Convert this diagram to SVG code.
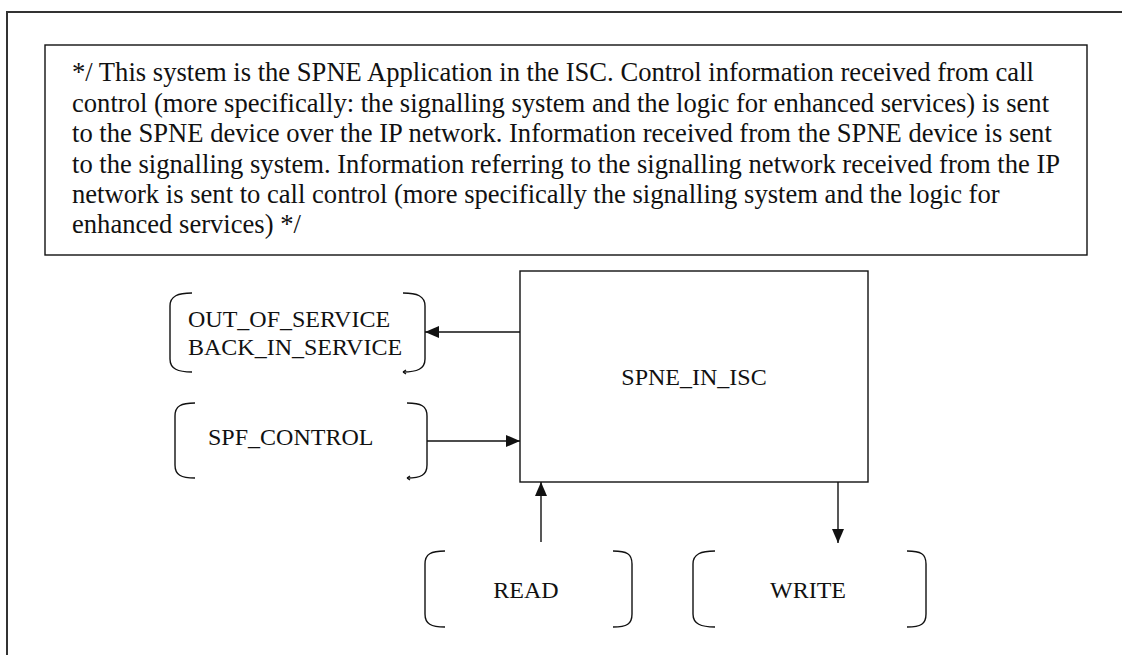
<svg xmlns="http://www.w3.org/2000/svg" width="1122" height="655" viewBox="0 0 1122 655">
  <style>
    .txt { font-family: "Liberation Serif", "Times New Roman", serif; font-size: 24px; fill: #111; }
    .para { font-size: 26.6px; }
    .frame { fill: none; stroke: #333; stroke-width: 2; }
    .box { fill: #fff; stroke: #111; stroke-width: 1.4; }
    .brk { fill: none; stroke: #111; stroke-width: 1.4; }
    .conn { fill: none; stroke: #111; stroke-width: 1.4; }
  </style>
  <defs>
    <marker id="arrow" viewBox="0 0 14 12" refX="14" refY="6" markerWidth="14" markerHeight="12" markerUnits="userSpaceOnUse" orient="auto">
      <path d="M0,0 L14,6 L0,12 Z" fill="#111"/>
    </marker>
  </defs>
  <rect width="1122" height="655" fill="#fff"/>

  <!-- outer page frame -->
  <path class="frame" d="M7,656 V12 H1124"/>

  <!-- description note -->
  <g id="note">
    <rect class="box" x="45" y="45" width="1042" height="210"/>
    <text class="txt para" x="72" y="81">*/ This system is the SPNE Application in the ISC. Control information received from call</text>
    <text class="txt para" x="72" y="111.5">control (more specifically: the signalling system and the logic for enhanced services) is sent</text>
    <text class="txt para" x="72" y="142">to the SPNE device over the IP network. Information received from the SPNE device is sent</text>
    <text class="txt para" x="72" y="172.5">to the signalling system. Information referring to the signalling network received from the IP</text>
    <text class="txt para" x="72" y="203">network is sent to call control (more specifically the signalling system and the logic for</text>
    <text class="txt para" x="72" y="233">enhanced services) */</text>
  </g>

  <!-- central system block -->
  <g id="spne_in_isc">
    <rect class="box" x="520" y="271" width="348" height="211"/>
    <text class="txt" x="694" y="385" text-anchor="middle">SPNE_IN_ISC</text>
  </g>

  <!-- signal lists -->
  <g id="out_of_service">
    <path class="brk" d="M192,293 C178,293 170,296 170,306 V359 C170,369 178,372 192,372"/>
    <path class="brk" d="M403,293 C417,293 425,296 425,306 V359 C425,369 417,372 403,372"/>
    <path class="brk" d="M403,372 l3,-2 M403,372 l3,2"/>
    <text class="txt" x="188" y="327">OUT_OF_SERVICE</text>
    <text class="txt" x="188" y="355">BACK_IN_SERVICE</text>
  </g>

  <g id="spf_control">
    <path class="brk" d="M195,403 C181,403 175,406 175,416 V465 C175,475 181,478 195,478"/>
    <path class="brk" d="M407,403 C421,403 427,406 427,416 V465 C427,475 421,478 407,478"/>
    <path class="brk" d="M407,478 l3,-2 M407,478 l3,2"/>
    <text class="txt" x="208" y="445">SPF_CONTROL</text>
  </g>

  <g id="read">
    <path class="brk" d="M445,551 C431,551 425,554 425,564 V614 C425,624 431,627 445,627"/>
    <path class="brk" d="M613,551 C627,551 632,554 632,564 V614 C632,624 627,627 613,627"/>
    <text class="txt" x="526" y="598" text-anchor="middle">READ</text>
  </g>

  <g id="write">
    <path class="brk" d="M715,551 C701,551 693,554 693,564 V614 C693,624 701,627 715,627"/>
    <path class="brk" d="M907,551 C921,551 926,554 926,564 V614 C926,624 921,627 907,627"/>
    <text class="txt" x="808" y="598" text-anchor="middle">WRITE</text>
  </g>

  <!-- connectors -->
  <g id="connectors">
    <line class="conn" x1="520" y1="332" x2="425" y2="332" marker-end="url(#arrow)"/>
    <line class="conn" x1="427" y1="441" x2="520" y2="441" marker-end="url(#arrow)"/>
    <line class="conn" x1="541" y1="542" x2="541" y2="482" marker-end="url(#arrow)"/>
    <line class="conn" x1="838" y1="482" x2="838" y2="543" marker-end="url(#arrow)"/>
  </g>
</svg>
